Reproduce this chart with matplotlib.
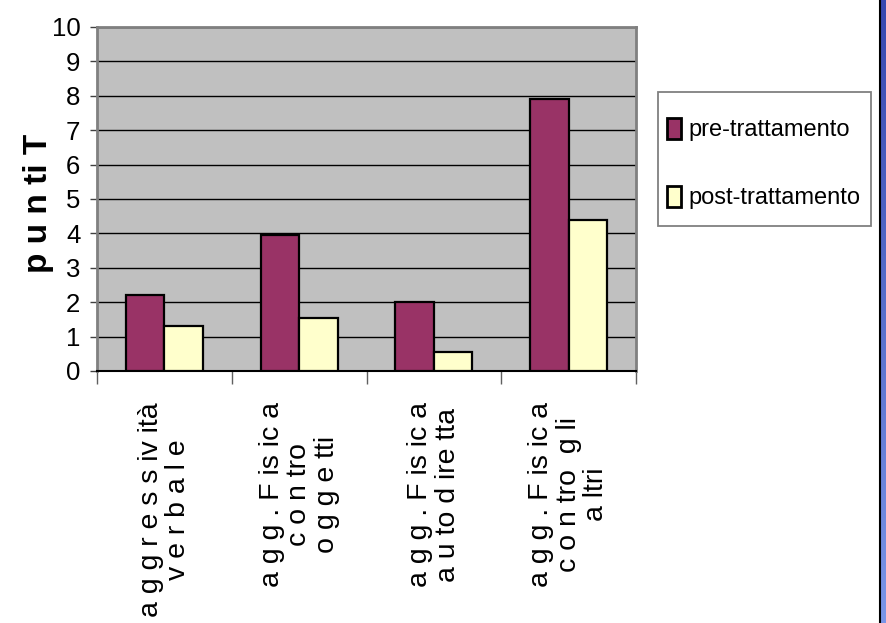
import numpy as np
import matplotlib
matplotlib.use("Agg")
import matplotlib.pyplot as plt
import matplotlib.transforms as mtransforms
from matplotlib.lines import Line2D
from matplotlib.patches import Rectangle
from matplotlib.colors import LinearSegmentedColormap

# --- data -------------------------------------------------------------
categories = [
    "a g g r e s s iv ità\nv e r b a l e",
    "a g g . F is ic a\nc o n tro\no g g e tti",
    "a g g . F is ic a\na u to d ire tta",
    "a g g . F is ic a\nc o n tro  g li\na ltri",
]
series_names = ["pre-trattamento", "post-trattamento"]
pre_values = [2.2, 3.95, 2.0, 7.9]
post_values = [1.3, 1.55, 0.55, 4.4]
y_ticks = list(range(0, 11))
y_label = "p u n ti T"

plt.rcParams["font.family"] = ["Liberation Sans", "DejaVu Sans"]

# --- figure -----------------------------------------------------------
W, H = 886, 623
fig = plt.figure(figsize=(W / 100, H / 100), dpi=100)
fig.patch.set_facecolor("white")

ax = fig.add_axes([97 / W, 1 - 371 / H, 539 / W, 344 / H])
ax.set_facecolor("#C0C0C0")

x = np.arange(len(categories))
gap = 1.5
bw = 1.0 / (2 + gap)
ax.bar(x - bw / 2, pre_values, bw, color="#993366", edgecolor="black",
       linewidth=1.6, label=series_names[0], zorder=3)
ax.bar(x + bw / 2, post_values, bw, color="#FFFFCC", edgecolor="black",
       linewidth=1.6, label=series_names[1], zorder=3)

ax.set_xlim(-0.5, len(categories) - 0.5)
ax.set_ylim(0, 10)
ax.set_yticks(y_ticks)
ax.set_yticklabels([str(v) for v in y_ticks], fontsize=18.5)
ax.yaxis.grid(True, color="black", linewidth=1.0, zorder=1)
ax.set_axisbelow(True)
ax.tick_params(axis="y", length=5, width=1, color="#404040", pad=7)

# category boundaries as tick marks below the axis
ax.set_xticks(np.arange(-0.5, len(categories), 1.0))
ax.set_xticklabels([])
ax.tick_params(axis="x", length=9, width=1, color="#606060", direction="out")

for s in ["top", "right", "left"]:
    ax.spines[s].set_color("#808080")
    ax.spines[s].set_linewidth(2)
ax.spines["bottom"].set_color("black")
ax.spines["bottom"].set_linewidth(1.5)

# rotated category labels
trans = mtransforms.blended_transform_factory(ax.transData, ax.transAxes)
off = mtransforms.ScaledTranslation(0, -31 / 100, fig.dpi_scale_trans)
for xi, lab in zip(x, categories):
    ax.text(xi, 0, lab, transform=trans + off, rotation=90, ha="center",
            va="top", multialignment="center", fontsize=20.5, linespacing=1.07)

# y axis title
fig.text(38 / W, 1 - 203 / H, y_label, rotation=90, ha="center", va="center",
         fontsize=24, fontweight="bold")

# legend with a plain rectangular frame
leg = fig.legend(loc="center", bbox_to_anchor=(763.5 / W, 1 - 163.5 / H),
                 fontsize=17, frameon=False, handlelength=0.6,
                 handleheight=1.0, handletextpad=0.3, labelspacing=1.87,
                 borderpad=0.0, borderaxespad=0)
for p in leg.get_patches():
    p.set_linewidth(2)
fig.add_artist(Rectangle((658 / W, 1 - 226 / H), 213 / W, 134 / H,
                         transform=fig.transFigure, facecolor="none",
                         edgecolor="#808080", linewidth=1.3))

# blue strip on the right edge
strip = fig.add_axes([881 / W, 0, 5 / W, 1])
cmap = LinearSegmentedColormap.from_list("strip", ["#3848B0", "#7A96E8"])
strip.imshow(np.linspace(0, 1, 256).reshape(-1, 1), aspect="auto", cmap=cmap)
strip.set_axis_off()
fig.add_artist(Line2D([880 / W, 880 / W], [0, 1], transform=fig.transFigure,
                      color="black", linewidth=1.5))

fig.savefig("out.png", dpi=100)
